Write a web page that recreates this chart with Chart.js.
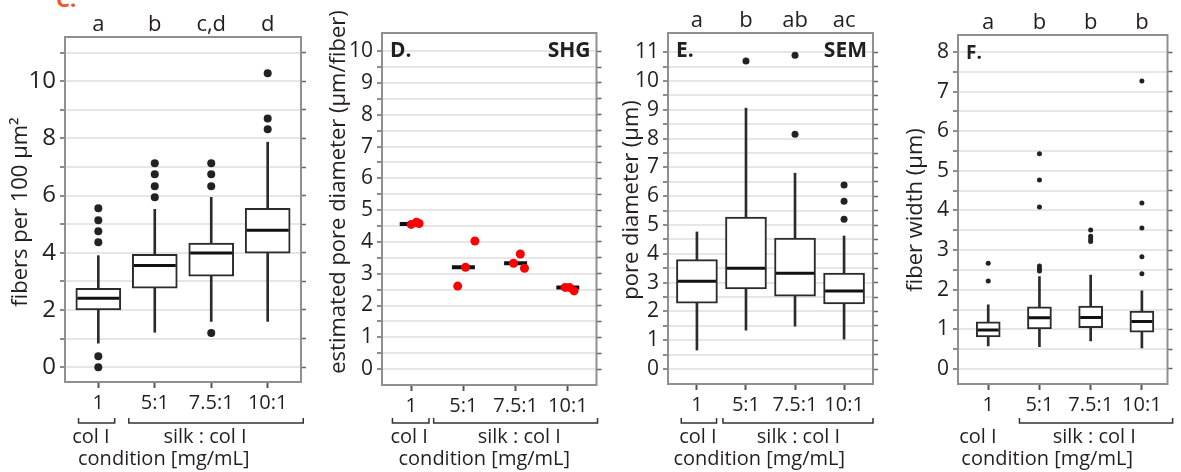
<!DOCTYPE html>
<html>
<head>
<meta charset="utf-8">
<script src="https://cdn.jsdelivr.net/npm/chart.js@4.4.1/dist/chart.umd.min.js"></script>
<style>
  body { margin: 0; background: #fff; width: 1181px; height: 472px; position: relative; overflow: hidden; font-family: "Open Sans", sans-serif; }
  canvas { position: absolute; top: 0; }
  #tagC { position: absolute; left: 56px; top: -17px; line-height: 22px; color: #f0592b; font: bold 22px "Open Sans", sans-serif; }
</style>
</head>
<body>
<div id="tagC">C.</div>
<canvas id="chartC" width="325" height="472" style="left:0px"></canvas>
<canvas id="chartD" width="287" height="472" style="left:325px"></canvas>
<canvas id="chartE" width="283" height="472" style="left:612px"></canvas>
<canvas id="chartF" width="286" height="472" style="left:895px"></canvas>
<script>
// x categories shared by all panels
const categories = ["1", "5:1", "7.5:1", "10:1"];

// C. fibers per 100 µm² (box plot)
const fibersLetters = ["a", "b", "c,d", "d"];
const fibersLow = [0.84, 1.22, 1.6, 1.6];
const fibersQ1 = [2.0, 2.76, 3.18, 3.99];
const fibersMedian = [2.41, 3.56, 3.99, 4.79];
const fibersQ3 = [2.76, 3.95, 4.34, 5.56];
const fibersHigh = [3.9, 5.52, 5.94, 7.87];
const fibersOutliers = [[0, 0.38, 4.37, 4.75, 5.14, 5.56], [5.94, 6.33, 6.75, 7.13], [1.19, 6.33, 6.75, 7.13], [8.32, 8.7, 10.28]];
const fibersTickLabels = [0, 2, 4, 6, 8, 10];

// D. SHG estimated pore diameter (median bar + replicates)
const shgMedian = [4.56, 3.2, 3.33, 2.57];
const shgPoints = [[4.55, 4.62, 4.58], [2.61, 3.2, 4.03], [3.33, 3.62, 3.17], [2.57, 2.57, 2.46]];
const shgJitter = [[0.0, 0.1, 0.15], [-0.11, 0.04, 0.22], [-0.04, 0.09, 0.17], [-0.05, 0.03, 0.12]];
const shgTickLabels = [0, 1, 2, 3, 4, 5, 6, 7, 8, 9, 10];

// E. SEM pore diameter (box plot)
const semLetters = ["a", "b", "ab", "ac"];
const semLow = [0.66, 1.35, 1.49, 1.04];
const semQ1 = [2.29, 2.78, 2.53, 2.26];
const semMedian = [3.05, 3.5, 3.33, 2.71];
const semQ3 = [3.8, 5.28, 4.55, 3.33];
const semHigh = [4.76, 9.06, 6.8, 4.62];
const semOutliers = [[], [10.7], [8.15, 10.9], [5.2, 5.83, 6.39]];
const semTickLabels = [0, 1, 2, 3, 4, 5, 6, 7, 8, 9, 10, 11];

// F. fiber width (box plot)
const widthLetters = ["a", "b", "b", "b"];
const widthLow = [0.58, 0.56, 0.71, 0.53];
const widthQ1 = [0.81, 1.01, 1.04, 0.93];
const widthMedian = [0.98, 1.29, 1.3, 1.2];
const widthQ3 = [1.19, 1.57, 1.59, 1.46];
const widthHigh = [1.62, 2.33, 2.37, 1.97];
const widthOutliers = [[2.22, 2.67], [2.47, 2.53, 2.6, 4.09, 4.77, 5.43], [3.22, 3.28, 3.35, 3.51], [2.4, 2.83, 3.56, 4.19, 7.27]];
const widthTickLabels = [0, 1, 2, 3, 4, 5, 6, 7, 8];

const INK = "#2b2b2b";
const TEXT = "#231f20";
const FONT = '"Open Sans", sans-serif';

function toPoints(lists, jitter) {
  const pts = [];
  lists.forEach((vals, i) => {
    vals.forEach((v, j) => pts.push({ x: i + 1 + (jitter ? jitter[i][j] : 0), y: v }));
  });
  return pts;
}

function gridSteps(top, step) {
  const out = [];
  for (let v = 0; v <= top + 1e-9; v += step) out.push(Math.round(v * 100) / 100);
  return out;
}

// extra drawing: frame, y title, corner tags, brackets and group labels
function decor(p) {
  return {
    id: "decor",
    afterDraw(chart) {
      const { ctx, chartArea: a, scales: { x } } = chart;
      ctx.save();
      ctx.strokeStyle = "#8f8f8f";
      ctx.lineWidth = 2;
      ctx.strokeRect(a.left, a.top, a.right - a.left, a.bottom - a.top);

      ctx.fillStyle = TEXT;
      ctx.font = "22px " + FONT;
      ctx.textAlign = "center";
      ctx.textBaseline = "middle";
      ctx.save();
      ctx.translate(p.title.x - p.left, p.title.y);
      ctx.rotate(-Math.PI / 2);
      ctx.fillText(p.title.text, 0, 0);
      ctx.restore();

      ctx.font = "bold " + p.tagSize + "px " + FONT;
      ctx.textBaseline = "alphabetic";
      if (p.tagLeft) {
        ctx.textAlign = "left";
        ctx.fillText(p.tagLeft, a.left + 8, a.top + 24);
      }
      if (p.tagRight) {
        ctx.textAlign = "right";
        ctx.fillText(p.tagRight, a.right - 6, a.top + 24);
      }

      ctx.strokeStyle = "#333";
      ctx.lineWidth = 1.5;
      p.brackets.forEach(([v1, v2]) => {
        const x1 = x.getPixelForValue(v1), x2 = x.getPixelForValue(v2), y = 423;
        ctx.beginPath();
        ctx.moveTo(x1, y - 5);
        ctx.lineTo(x1, y);
        ctx.lineTo(x2, y);
        ctx.lineTo(x2, y - 5);
        ctx.stroke();
      });

      ctx.font = "20px " + FONT;
      ctx.textAlign = "center";
      ctx.textBaseline = "middle";
      ctx.fillText("col I", x.getPixelForValue(p.groupAt[0]), 437);
      ctx.fillText("silk : col I", x.getPixelForValue(p.groupAt[1]), 437);
      ctx.fillText("condition [mg/mL]", x.getPixelForValue(p.groupAt[2]), 459);
      ctx.restore();
    }
  };
}

function buildPanel(id, p) {
  const H = 472;
  const W = document.getElementById(id).width;
  const area = { left: p.area[0] - p.left, right: p.area[1] - p.left, top: p.area[2], bottom: p.area[3] };
  const gridVals = gridSteps(p.gridTop, p.gridStep);
  const catTicks = s => { s.ticks = [1, 2, 3, 4].map(v => ({ value: v })); };
  const yTicks = s => { s.ticks = gridVals.map(v => ({ value: v })); };

  const datasets = [];
  if (p.box) {
    const b = p.box;
    const whisker = { type: "bar", backgroundColor: INK, barThickness: 2, grouped: false, order: 5 };
    datasets.push(Object.assign({ data: b.low.map((v, i) => ({ x: i + 1, y: [v, b.q1[i]] })) }, whisker));
    datasets.push(Object.assign({ data: b.high.map((v, i) => ({ x: i + 1, y: [b.q3[i], v] })) }, whisker));
    datasets.push({
      type: "bar",
      data: b.q1.map((v, i) => ({ x: i + 1, y: [v, b.q3[i]] })),
      backgroundColor: "#fff",
      borderColor: INK,
      borderWidth: 2,
      borderSkipped: false,
      barThickness: p.boxWidth,
      grouped: false,
      order: 4
    });
  }
  datasets.push({
    type: "scatter",
    data: p.medians.map((v, i) => ({ x: i + 1, y: v })),
    pointStyle: "line",
    pointRadius: p.medianHalf,
    pointBorderWidth: p.medianWidth,
    pointBorderColor: "#111",
    order: 2
  });
  datasets.push({
    type: "scatter",
    data: toPoints(p.points, p.jitter),
    pointRadius: p.dot,
    pointBackgroundColor: p.dotColor,
    pointBorderWidth: 0,
    order: 1
  });

  new Chart(document.getElementById(id), {
    type: "bar",
    data: { datasets },
    options: {
      responsive: false,
      animation: false,
      layout: { padding: 0 },
      plugins: { legend: { display: false }, tooltip: { enabled: false } },
      scales: {
        x: {
          type: "linear", position: "bottom", min: p.xRange[0], max: p.xRange[1], offset: false,
          afterBuildTicks: catTicks,
          ticks: { callback: v => categories[v - 1], color: TEXT, font: { family: FONT, size: 20 }, padding: 3, autoSkip: false, maxRotation: 0 },
          grid: { offset: false, drawOnChartArea: false, tickLength: 6, tickWidth: 2, tickColor: "#555" },
          border: { display: false },
          afterFit: s => { s.height = H - area.bottom; }
        },
        xTop: {
          type: "linear", position: "top", min: p.xRange[0], max: p.xRange[1], offset: false,
          afterBuildTicks: catTicks,
          ticks: { callback: v => (p.letters ? p.letters[v - 1] : ""), color: TEXT, font: { family: FONT, size: 22 }, padding: -1, autoSkip: false, maxRotation: 0 },
          grid: { display: false, drawTicks: false },
          border: { display: false },
          afterFit: s => { s.height = area.top; }
        },
        y: {
          min: p.yRange[0], max: p.yRange[1],
          afterBuildTicks: yTicks,
          ticks: { callback: v => (p.tickLabels.includes(v) ? String(v) : ""), color: TEXT, font: { family: FONT, size: p.tickSize }, padding: 4, autoSkip: false },
          grid: { color: "#e6e6e6", lineWidth: 2, tickLength: 5, tickWidth: 1.5, tickColor: "#666" },
          border: { display: false },
          afterFit: s => { s.width = area.left; }
        },
        yRight: {
          position: "right", min: p.yRange[0], max: p.yRange[1],
          afterBuildTicks: yTicks,
          ticks: { callback: () => "", padding: 0, autoSkip: false },
          grid: { drawOnChartArea: false, tickLength: 5, tickWidth: 1.5, tickColor: "#666" },
          border: { display: false },
          afterFit: s => { s.width = W - area.right; }
        }
      }
    },
    plugins: [decor(p)]
  });
}

buildPanel("chartC", {
  left: 0, area: [65, 313, 37, 382], xRange: [0.41, 4.59], yRange: [-0.52, 11.55],
  gridTop: 11, gridStep: 1, tickLabels: fibersTickLabels, tickSize: 24,
  letters: fibersLetters,
  box: { low: fibersLow, q1: fibersQ1, q3: fibersQ3, high: fibersHigh },
  medians: fibersMedian, boxWidth: 45, medianHalf: 21, medianWidth: 3,
  points: fibersOutliers, dot: 4, dotColor: "#222",
  title: { text: "fibers per 100 μm²", x: 21, y: 212 },
  brackets: [[0.65, 1.29], [1.54, 4.63]], groupAt: [0.87, 2.89, 2.16]
});

buildPanel("chartD", {
  left: 325, area: [382, 602, 33, 385], xRange: [0.44, 4.55], yRange: [-0.5, 10.57],
  gridTop: 10, gridStep: 0.5, tickLabels: shgTickLabels, tickSize: 21,
  medians: shgMedian, medianHalf: 11.5, medianWidth: 4,
  points: shgPoints, jitter: shgJitter, dot: 4.5, dotColor: "#ff0000",
  title: { text: "estimated pore diameter (μm/fiber)", x: 339, y: 192 },
  tagLeft: "D.", tagRight: "SHG", tagSize: 21,
  brackets: [[0.64, 1.34], [1.43, 4.57]], groupAt: [0.96, 3.07, 2.4]
});

buildPanel("chartE", {
  left: 612, area: [668, 888, 33, 384], xRange: [0.41, 4.59], yRange: [-0.52, 11.67],
  gridTop: 11, gridStep: 0.5, tickLabels: semTickLabels, tickSize: 21,
  letters: semLetters,
  box: { low: semLow, q1: semQ1, q3: semQ3, high: semHigh },
  medians: semMedian, boxWidth: 41, medianHalf: 19, medianWidth: 3,
  points: semOutliers, dot: 3.5, dotColor: "#222",
  title: { text: "pore diameter (μm)", x: 632, y: 200 },
  tagLeft: "E.", tagRight: "SEM", tagSize: 21,
  brackets: [[0.68, 1.4], [1.53, 4.59]], groupAt: [1.02, 3.07, 2.27]
});

buildPanel("chartF", {
  left: 895, area: [958, 1179, 35, 384], xRange: [0.41, 4.5], yRange: [-0.38, 8.43],
  gridTop: 8, gridStep: 0.5, tickLabels: widthTickLabels, tickSize: 21,
  letters: widthLetters,
  box: { low: widthLow, q1: widthQ1, q3: widthQ3, high: widthHigh },
  medians: widthMedian, boxWidth: 24, medianHalf: 10.5, medianWidth: 3,
  points: widthOutliers, dot: 2.5, dotColor: "#222",
  title: { text: "fiber width (μm)", x: 916, y: 210 },
  tagLeft: "F.", tagSize: 19,
  brackets: [[1.61, 4.6]], groupAt: [0.8, 3.07, 2.15]
});
</script>
</body>
</html>
